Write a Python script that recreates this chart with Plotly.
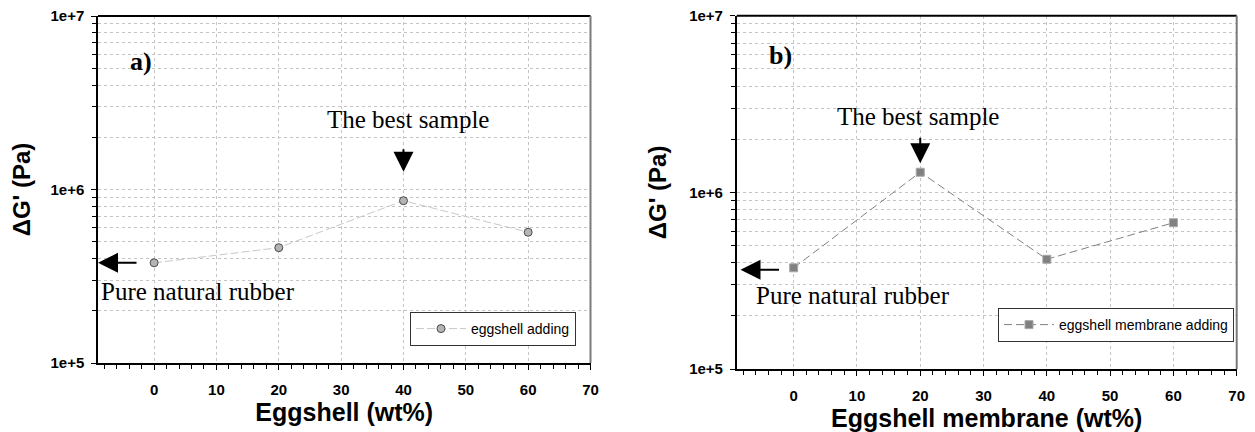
import math
import plotly.graph_objects as go

# ---------------- data ----------------
wt = [0, 20, 40, 60]
dg_eggshell = [3.78e5, 4.62e5, 8.62e5, 5.67e5]
dg_membrane = [3.74e5, 1.30e6, 4.18e5, 6.73e5]
x_tick_vals = [0, 10, 20, 30, 40, 50, 60, 70]
y_tick_vals = [1e5, 1e6, 1e7]
y_tick_text = ["1e+5", "1e+6", "1e+7"]
series_names = ["eggshell adding", "eggshell membrane adding"]
x_titles = ["Eggshell (wt%)", "Eggshell membrane (wt%)"]
y_title = "ΔG' (Pa)"

# page body has an 8px margin, so the figure is drawn offset by 8px
OX, OY = 8, 8
W, H = 1255 - OX, 432 - OY


def px(x):
    return (x - OX) / W


def py(y):
    return 1 - (y - OY) / H


SANS = "Liberation Sans, Arial, sans-serif"
SERIF = "Liberation Serif, Times New Roman, serif"
GRID = "#c4c4c4"

minor_y = [k * 10 ** e for e in (5, 6) for k in range(2, 10)]

fig = go.Figure()
fig.add_trace(go.Scatter(
    x=wt, y=dg_eggshell, mode="lines+markers", name=series_names[0],
    line=dict(color="#c8c8c8", width=1, dash="8px,3px"),
    marker=dict(symbol="circle", size=8, color="#b4b4b4", line=dict(color="#4a4a4a", width=1)),
    xaxis="x", yaxis="y", legend="legend"))
fig.add_trace(go.Scatter(
    x=wt, y=dg_membrane, mode="lines+markers", name=series_names[1],
    line=dict(color="#808080", width=1, dash="8px,4px"),
    marker=dict(symbol="square", size=8, color="#808080", line=dict(color="#a8a8a8", width=1)),
    xaxis="x2", yaxis="y2", legend="legend2"))


def xaxis_cfg(domain, title, anchor):
    return dict(
        domain=domain, anchor=anchor, range=[-9, 70],
        tickmode="array", tickvals=x_tick_vals,
        showline=True, linecolor="black", linewidth=1.5, mirror=False,
        ticks="outside", ticklen=5, tickcolor="black", tickwidth=1,
        ticklabelstandoff=7, ticklabeloverflow="allow",
        tickfont=dict(family=SANS, size=15, color="black", weight="bold"),
        showgrid=True, gridcolor=GRID, griddash="dot", gridwidth=1,
        zeroline=False,
        minor=dict(tick0=0, dtick=2, ticks="outside", ticklen=4, tickcolor="black", showgrid=False),
        title=dict(text=title, font=dict(family=SANS, size=25, color="black", weight="bold"), standoff=5),
        automargin=False,
    )


def yaxis_cfg(domain, anchor, standoff):
    return dict(
        domain=domain, anchor=anchor, type="log", range=[5, 7],
        tickmode="array", tickvals=y_tick_vals, ticktext=y_tick_text,
        showline=True, linecolor="black", linewidth=1.5, mirror=False,
        ticks="outside", ticklen=5, tickcolor="black", tickwidth=1,
        ticklabelstandoff=4, ticklabeloverflow="allow",
        tickfont=dict(family=SANS, size=15, color="black", weight="bold"),
        showgrid=True, gridcolor=GRID, griddash="dot", gridwidth=1,
        zeroline=False,
        minor=dict(tickmode="array", tickvals=minor_y, ticks="outside", ticklen=4,
                   tickcolor="black", showgrid=True, gridcolor=GRID, griddash="dot", gridwidth=1),
        title=dict(text=y_title, font=dict(family=SANS, size=24, color="black", weight="bold"), standoff=standoff),
        automargin=False,
    )


legend_common = dict(
    bgcolor="white", bordercolor="#333333", borderwidth=1,
    font=dict(family=SANS, size=14, color="black"),
    xanchor="right", yanchor="top", itemwidth=50,
)

fig.update_layout(
    width=W, height=H,
    margin=dict(l=0, r=0, t=0, b=0),
    paper_bgcolor="white", plot_bgcolor="white",
    xaxis=xaxis_cfg([px(98), px(590.5)], x_titles[0], "y"),
    yaxis=yaxis_cfg([py(363), py(16)], "x", 15),
    xaxis2=xaxis_cfg([px(736.7), px(1236.7)], x_titles[1], "y2"),
    yaxis2=yaxis_cfg([py(369), py(15.7)], "x2", 16),
    legend=dict(x=px(576), y=py(312), **legend_common),
    legend2=dict(x=px(1234), y=py(308), **legend_common),
    showlegend=True,
)

# frame: top line (black) and right line (grey)
for xr, yr in (("x domain", "y domain"), ("x2 domain", "y2 domain")):
    fig.add_shape(type="line", xref=xr, yref=yr, x0=0, x1=1, y0=1, y1=1, layer="above",
                  line=dict(color="black", width=2))
    fig.add_shape(type="line", xref=xr, yref=yr, x0=1, x1=1, y0=0, y1=1, layer="above",
                  line=dict(color="#7a7a7a", width=2))

ann = []
# panel labels
for txt, cx, cy in (("<b>a)</b>", 141, 61), ("<b>b)</b>", 780, 55)):
    ann.append(dict(text=txt, xref="paper", yref="paper", x=px(cx), y=py(cy),
                    xanchor="center", yanchor="middle",
                    showarrow=False, font=dict(family=SERIF, size=26, color="black")))
# text labels
for txt, cx, cy in (("The best sample", 408, 120), ("The best sample", 917.5, 116),
                    ("Pure natural rubber", 198, 291), ("Pure natural rubber", 853, 295)):
    ann.append(dict(text=txt, xref="paper", yref="paper", x=px(cx), y=py(cy),
                    xanchor="center", yanchor="middle",
                    showarrow=False, font=dict(family=SERIF, size=25, color="black")))
# arrows
arrow_style = dict(text="", showarrow=True, arrowhead=2, arrowsize=2, arrowwidth=2,
                   arrowcolor="black", axref="pixel", ayref="pixel")
ann.append(dict(xref="x", yref="y", x=wt[2], y=math.log10(dg_eggshell[2]), yshift=29,
                ax=0, ay=-24, **arrow_style))
ann.append(dict(xref="x2", yref="y2", x=wt[1], y=math.log10(dg_membrane[1]), yshift=9,
                ax=0, ay=-27, **arrow_style))
ann.append(dict(xref="x", yref="y", x=-9, y=math.log10(dg_eggshell[0]),
                ax=40, ay=0, **arrow_style))
ann.append(dict(xref="x2", yref="y2", x=-8.4, y=math.log10(dg_membrane[0]), yshift=-2,
                ax=40, ay=0, **arrow_style))
fig.update_layout(annotations=ann)

fig.write_html("out.html")
